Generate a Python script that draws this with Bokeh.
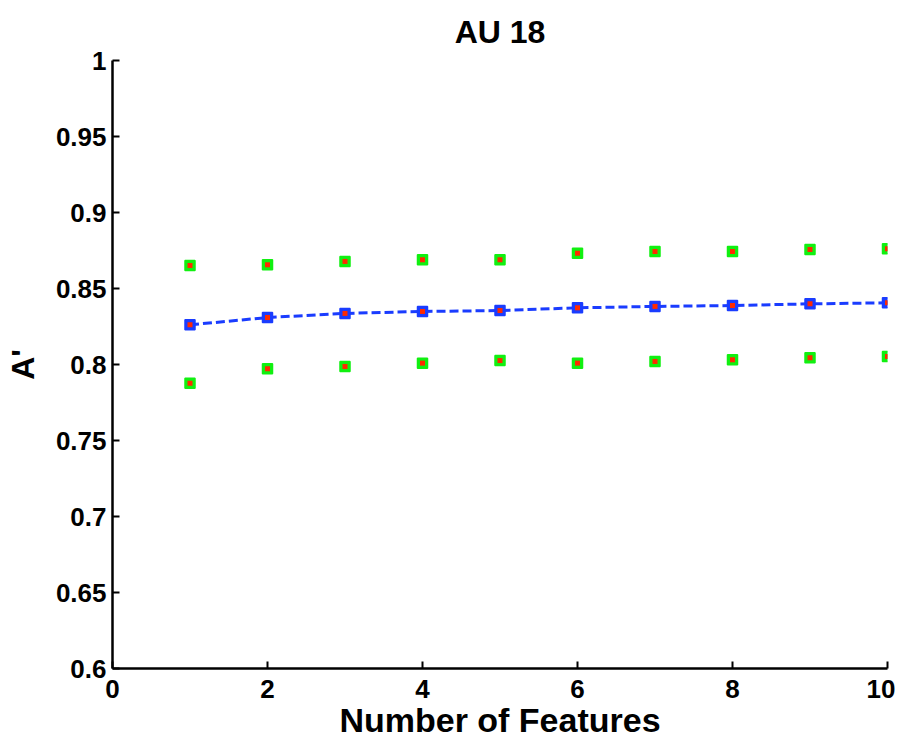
from bokeh.plotting import figure
from bokeh.models import FixedTicker, ColumnDataSource
from bokeh.embed import file_html
from bokeh.resources import INLINE

# ---- data ----
n_features = [1, 2, 3, 4, 5, 6, 7, 8, 9, 10]
mean_a = [0.8261, 0.8309, 0.8336, 0.8349, 0.8355, 0.8373, 0.8382, 0.8388, 0.8399, 0.8406]
upper_a = [0.8651, 0.8656, 0.8678, 0.8689, 0.8689, 0.8732, 0.8743, 0.8743, 0.8757, 0.8761]
lower_a = [0.7877, 0.7972, 0.7987, 0.8009, 0.8026, 0.8009, 0.8020, 0.8031, 0.8044, 0.8053]

x_ticks = [0, 2, 4, 6, 8, 10]
x_tick_labels = ["0", "2", "4", "6", "8", "10"]
y_ticks = [0.6, 0.65, 0.7, 0.75, 0.8, 0.85, 0.9, 0.95, 1.0]
y_tick_labels = ["0.6", "0.65", "0.7", "0.75", "0.8", "0.85", "0.9", "0.95", "1"]

title_text = "AU 18"
x_label = "Number of Features"
y_label = "A'"

FONT = "Liberation Sans"

p = figure(
    output_backend="svg", toolbar_location=None,
    frame_width=775, frame_height=608,
    x_range=(0, 10), y_range=(0.6, 1.0),
    min_border_left=112, min_border_top=60, min_border_right=8, min_border_bottom=70,
    title=title_text,
)
p.outline_line_color = None
p.xgrid.visible = False
p.ygrid.visible = False
p.background_fill_color = "white"
p.border_fill_color = "white"

p.title.align = "center"
p.title.text_font = FONT
p.title.text_font_size = "32px"
p.title.text_font_style = "bold"
p.title.text_color = "black"
p.title.standoff = 22

for ax in (p.xaxis[0], p.yaxis[0]):
    ax.axis_line_width = 2.5
    ax.axis_line_color = "black"
    ax.major_tick_in = 7
    ax.major_tick_out = 0
    ax.major_tick_line_width = 2
    ax.minor_tick_line_color = None
    ax.major_label_text_font = FONT
    ax.major_label_text_font_size = "26px"
    ax.major_label_text_font_style = "bold"
    ax.major_label_text_color = "black"
    ax.axis_label_text_font = FONT
    ax.axis_label_text_font_style = "bold"
    ax.axis_label_text_color = "black"

p.xaxis[0].ticker = FixedTicker(ticks=x_ticks)
p.xaxis[0].major_label_overrides = dict(zip(x_ticks, x_tick_labels))
p.yaxis[0].ticker = FixedTicker(ticks=y_ticks)
p.yaxis[0].major_label_overrides = dict(zip(y_ticks, y_tick_labels))

p.xaxis[0].axis_label = x_label
p.xaxis[0].axis_label_text_font_size = "34px"
p.xaxis[0].major_label_standoff = 11
p.xaxis[0].axis_label_standoff = 0
p.yaxis[0].axis_label = y_label
p.yaxis[0].axis_label_text_font_size = "32px"
p.yaxis[0].major_label_standoff = 6
p.yaxis[0].axis_label_standoff = 12

src = ColumnDataSource(dict(x=n_features, mean=mean_a, up=upper_a, lo=lower_a))

p.line("x", "mean", source=src, line_color="#1a3cff", line_width=3, line_dash="9 4")
for col, c in (("up", "#11f011"), ("lo", "#11f011"), ("mean", "#1a3cff")):
    p.scatter("x", col, source=src, marker="square", size=10,
              fill_color=c, line_color=c, line_width=1.5)
    p.scatter("x", col, source=src, marker="square", size=5,
              fill_color="#ff2a00", line_color=None)

open("out.html", "w").write(file_html(p, INLINE))
